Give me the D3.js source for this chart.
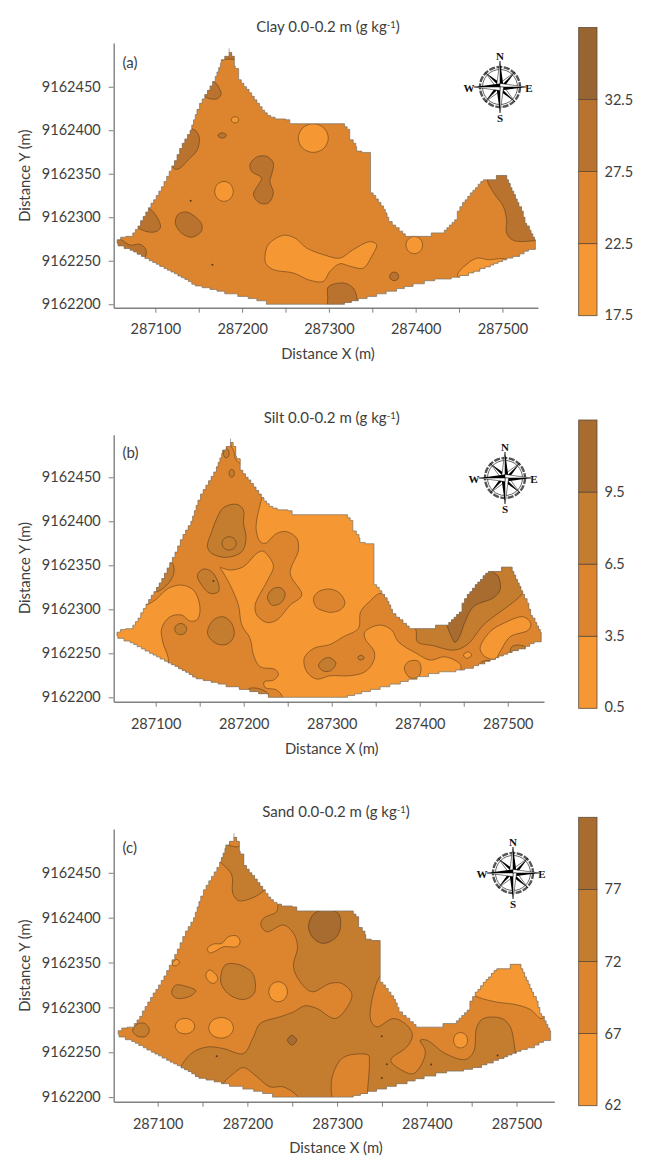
<!DOCTYPE html>
<html>
<head>
<meta charset="utf-8">
<style>
  html,body{margin:0;padding:0;background:#fff;}
  svg{display:block;}
  text{font-family:Lato,"Open Sans",sans-serif;fill:#3e3e3e;}
  .axis path,.axis line{stroke:#808080;}
  .axis path{stroke-width:1.4px;}
  .axis line{stroke-width:1px;}
  .axis text{font-size:14.5px;font-family:Lato,sans-serif;fill:#3e3e3e;}
  .contour{stroke:#4a3418;stroke-width:.6px;stroke-opacity:.85;}
</style>
</head>
<body>
<svg width="648" height="1157"></svg>
<script src="https://cdn.jsdelivr.net/npm/d3@7"></script>
<script>
// coordinates below are metres, offset from these two bases
var xBase = 287000, yBase = 9162000;

var xTicks = [287100,287150,287200,287250,287300,287350,287400,287450,287500];
var yTicks = [9162200,9162250,9162300,9162350,9162400,9162450];

// field boundary, same staircase in all three maps
var fieldOutline = [[56,270],[56,274],[60,277],[66,278],[71,278],[74,282],[77,286],[80,290],[83,296],[86,301],[89,306],[92,311],[95,316],[98,320],[101,325],[104,330],[107,335],[110,341],[113,347],[116,353],[119,359],[122,365],[125,372],[128,379],[131,385],[134,390],[137,395],[140,400],[142,406],[144,412],[146,418],[148,424],[151,431],[154,436],[157,441],[160,446],[163,451],[166,456],[169,462],[171,467],[173,472],[175,477],[176,481],[180,485],[185,489.5],[188,485],[191,481],[191,474],[192,471],[196,467],[196,458],[199,454],[202,450],[205,447],[208,443],[211,439],[214,435],[217,431],[220,427],[223,423],[226,420],[229,417],[233,415],[238,413],[250,412],[255,407.5],[315,407.5],[318,404],[321,401],[324,398],[324,389],[328,385],[331,381],[332,376],[338,374.5],[348,370],[348,328],[351,325],[354,321],[357,317],[360,313],[363,309],[365,305],[367,300],[369,295],[373,291],[377,288],[381,284],[385,281],[388,278],[415,278],[418,282],[430,282],[433,285],[436,288],[439,291],[442,294],[445,297],[448,300],[448,307],[451,312],[454,317],[457,320],[460,324],[463,328],[466,331],[469,334],[472,338],[475,341],[478,343],[491,343],[493,348],[503,348],[505,343],[507,339],[509,334],[511,330],[513,326],[515,321],[517,317],[519,312],[522,307],[524,300],[526,293],[528,290],[531,285],[533,281],[535,277],[537,274],[538,263],[530,261],[525,258],[520,255],[512,253],[505,251],[500,249],[495,247],[490,245],[486,243],[480,241],[474,238],[467,236],[461,233],[451,231],[441,229],[422,227],[410,223.5],[397,220.5],[387,218],[378,215],[366,212],[355,209],[344,206.5],[334,204],[326,202],[318,200],[240,200],[228,204],[217,206.5],[207,209],[195,212],[180,215],[171,217],[163,219],[154,221],[146,223],[142,226],[138,228.5],[134,230.5],[130,232.5],[126,235],[122,237],[118,239],[114,241],[110,243.5],[105,246],[101,248],[97,250],[93,252.5],[88,255],[84,257.5],[79,260],[75,262],[71,264],[64,267],[57,270]];
var apexSpike = [[185,489],[185,494]];

// ---- Clay
var clayTitle = "Clay 0.0-0.2 m (g kg";
var clayBreaks = [17.5,22.5,27.5,32.5,37.5];
var clayLabels = ["17.5","22.5","27.5","32.5"];
var clayColors = ["#f59733","#dd852e","#b9732f","#986432"];
var clayBase = 1;
var clayZone2 = [
  [[57,275],[71,268],[82,269],[89,263],[88,254],[70,250],[50,260]],
  [[92,310],[100,303],[106,289],[102,284],[92,283],[77,290],[70,300]],
  [[136,306],[153,293],[153,284],[142,277],[130,282],[123,293],[126,303]],
  [[167,456],[174.5,446.5],[175.7,441],[170.7,436],[156.5,439],[155,450]],
  [[147,399],[150.7,391],[148.4,377.6],[138,366],[126.5,355.4],[120.8,356.5],[118,380],[138,402]],
  [[172,394],[174,396.2],[177,397],[180,396.2],[182,394],[180,391.8],[177,391],[174,391.8]],
  [[209,360.4],[216.8,369.2],[228.3,370],[236,362.3],[234,349],[232,341.2],[236,327.8],[230.2,316.3],[220.6,316.3],[213,326],[218.7,337.4],[222.5,345],[211,352.7]],
  [[370,232],[371.6,235.5],[375.4,237],[379,235.5],[380.5,232],[379,228.5],[375.4,227],[371.6,228.5]],
  [[299.3,219.8],[316.6,224.4],[328,218.7],[332.7,205.3],[334,190],[301,190],[298.6,209]],
  [[482.5,342.4],[491.3,326],[501,312.5],[504.8,297.2],[504.8,282],[512.5,273.4],[537.4,273],[548,274],[530,352],[484,352]],
  [[170,481.8],[185,481.8],[200,481.8],[205,500],[165,500]]
];
var clayZone0 = [
  [[187.4,412],[188.7,414.5],[191.8,415.5],[194.9,414.5],[196.2,412],[194.9,409.5],[191.8,408.5],[188.7,409.5]],
  [[168.4,329.7],[171.5,337.8],[179.1,341.2],[186.7,337.8],[189.8,329.7],[186.7,321.6],[179.1,318.2],[171.5,321.6]],
  [[264.7,391],[269.8,402.7],[282,407.5],[294.2,402.7],[299.3,391],[294.2,379.3],[282,374.5],[269.8,379.3]],
  [[226.4,255],[230.2,268.5],[247.5,279.2],[261,276],[274.4,264.6],[297.4,255.8],[312.8,253],[328,262.7],[347.3,271.9],[355,268.5],[349.3,255],[339.7,241.6],[324.3,243.6],[312.8,246.6],[301.3,237.8],[293.6,226.3],[278.2,227.5],[259,235.9],[236,239.7],[227.5,246.6]],
  [[388.8,268],[391.6,275],[398.4,278],[405.2,275],[408,268],[405.2,261],[398.4,258],[391.6,261]],
  [[448.3,232.8],[460.6,247.4],[471.4,253],[483.7,251.2],[504.8,251.2],[508,235],[468,222]]
];
var claySpecks = [[140.7,319],[165.7,245.5]];

// ---- Silt
var siltTitle = "Silt 0.0-0.2 m (g kg";
var siltBreaks = [0.5,3.5,6.5,9.5,12.5];
var siltLabels = ["0.5","3.5","6.5","9.5"];
var siltColors = ["#f59733","#dd852e","#c47c2f","#a86c30"];
var siltBase = 0;
var siltZone1 = [
  [[87.9,304.8],[99.3,310.5],[114.4,323.8],[129.6,327.5],[142.9,321.9],[149.7,306.7],[149.7,293.4],[146.6,287.8],[139,286.6],[129.6,293.4],[116.3,291.5],[106.8,278.3],[108,263.1],[114.4,244.2],[114.4,233],[161.8,206],[237.6,191],[244.4,198.7],[237.6,208.2],[224.3,211.2],[223.2,217.6],[233.8,219.5],[239.5,226],[235.7,231.7],[218.7,234.7],[211.1,248],[207.3,266.9],[197.8,282.1],[194,304.8],[184.5,327.6],[175,344.6],[173.2,347.3],[184.5,344.6],[199.7,348.4],[214.9,363.6],[221.7,366.2],[230,357.9],[233.8,348.4],[226.2,331.3],[213,304.8],[214.9,293.4],[226.2,285.1],[237.6,287.8],[252.8,304.8],[266,316.2],[252.8,340.8],[262.2,367.3],[260.3,380.6],[249,388.2],[237.6,386.3],[224.3,374.9],[218.7,376.8],[214.1,392],[219.4,422.3],[222.4,433.7],[186,502],[124,422],[70.8,308.6]],
  [[355.6,318.1],[373.8,308.6],[390.9,282],[419.3,285.9],[476,350.3],[510.2,350.3],[555.7,270.7],[544.4,248],[487.5,232.8],[445.8,223.3],[446.6,236.6],[428.8,246],[411.7,242.3],[396.5,249.8],[375.7,263.1],[368.1,276.4],[354.9,282.1],[337.8,274.5],[337.8,266.9],[348.4,251.8],[347.3,240.4],[337.8,229],[320.7,224.5],[298,224.5],[283.1,220.7],[271.7,229],[268.7,244.2],[279.3,255.5],[298.2,260.1],[313.2,268.8],[330.2,278.3],[332.9,297.2],[342.7,308.6]],
  [[279.3,312.4],[285,320],[298.2,323],[309.4,318],[315,306.7],[309.4,299.1],[298,296.5],[294.5,297.2],[283,301.8]],
  [[382.5,232.8],[387,240.4],[398.4,241.1],[401.5,232.8],[398.4,223.3],[389,222.2]]
];
var siltZone0 = [
  [[185.3,488.6],[189.1,479.1],[190.2,471.6],[196.7,465.9],[199.7,475.4],[192.1,490.5]],
  [[468.6,255.5],[479.9,274.5],[495.1,284],[517.8,291.5],[526.2,284],[523.5,276.4],[502.7,268.8],[491.3,251.8],[485.6,243.4],[474.2,246.1]],
  [[449.6,248],[455.3,251.7],[459,248],[453.4,244.2]]
];
var siltZone2 = [
  [[169.4,403.3],[177,415.5],[192.1,419.3],[199.7,412.8],[199.7,397.7],[202.7,380.6],[197.8,365.4],[180.8,359],[163.7,363.5],[158.8,371.1],[163.7,388.2]],
  [[183.4,382.5],[189.1,380.3],[191.4,374.9],[189.1,369.5],[183.4,367.3],[177.7,369.5],[175.4,374.9],[177.7,380.3]],
  [[117.5,354],[120.9,342.7],[114.4,329.4],[99.3,320],[93.6,335]],
  [[147.4,338.9],[154.2,345.7],[163.7,342.7],[171.3,329.4],[171.3,320],[161.8,318.1],[152.3,327.5]],
  [[177,477.3],[179.6,482.9],[183,479.9],[182.6,473.5],[178.9,472.3]],
  [[183.4,454.5],[184.3,457.7],[186.4,459],[188.5,457.7],[189.4,454.5],[188.5,451.3],[186.4,450],[184.3,451.3]],
  [[227,314.3],[233.8,323.8],[243.3,323.8],[247.1,316.2],[241.4,306.7],[231.9,304.8]],
  [[158.8,274.5],[165.6,287.8],[177,291.5],[186.4,283.9],[189.1,270.7],[182.6,261.2],[171.3,260.1],[161.8,266.9]],
  [[121.6,277.5],[123.6,282],[128.4,283.9],[133.2,282],[135.2,277.5],[133.2,273],[128.4,271.1],[123.6,273]],
  [[285,235.8],[290.7,243.4],[298.2,244.9],[304.8,238.5],[299.9,230.9],[298,229.8],[290.7,229.8]],
  [[329.5,245],[333.2,247.8],[337,245],[333.2,242.2]],
  [[395.8,276.4],[397.3,263.1],[415.5,258.6],[438.2,253.6],[453.4,259.3],[472.3,282.1],[483.7,291.5],[515.9,316.9],[525.4,335],[506.5,352],[476,352],[419.3,290],[389,285]],
  [[502.7,249.8],[504.6,257.4],[514,259.3],[521.6,255.5],[517.8,246],[504.6,244.2]],
  [[467.4,236.6],[472.3,241.1],[483.7,240.4],[479.9,232.8],[468.6,230.9]],
  [[205.4,209.3],[216.8,210],[228.1,203.2],[215,195]]
];
var siltZone3 = [
  [[430.7,282.1],[435.2,270.7],[440.1,262.4],[445.1,268.8],[451.5,285.9],[461,302.9],[483.7,313.1],[491.3,321.9],[489.4,337],[483.7,342],[476,350],[457.2,330],[442,300],[426.9,289.7]]
];
var siltSpecks = [[165.6,332.1]];

// ---- Sand
var sandTitle = "Sand 0.0-0.2 m (g kg";
var sandBreaks = [62,67,72,77,82];
var sandLabels = ["62","67","72","77"];
var sandColors = ["#f59733","#dd852e","#c47c2f","#a86c30"];
var sandBase = 1;
var sandZone2 = [
  [[171.4,460.6],[182.6,447.6],[183.7,427.1],[190,419],[201.2,420.4],[217.2,429],[225.4,442],[195.6,497],[169.6,483],[164,468]],
  [[234.7,415.2],[242.1,417.8],[297.9,414.1],[316.3,410.4],[331.2,397.4],[334.9,378.8],[353.5,375],[355.4,337.8],[349,336],[340.5,315.5],[337.5,285.8],[344.2,278.3],[362.8,287.6],[377.7,280.2],[384,269],[377.7,256],[359.8,241.1],[372.1,230],[385.1,226.2],[396.3,241.1],[398.1,252.3],[392.6,263.4],[400,263.4],[420.5,248.6],[442.8,241.9],[452.1,250.4],[455.8,278.3],[463.2,287.6],[483.7,287.6],[493,278.3],[498.6,250.4],[500.4,237.4],[446.5,211.4],[390.7,203.9],[334.9,194.6],[257,194.6],[257,199.5],[240.2,211.4],[225.4,211.4],[208.6,224.4],[195.6,232.9],[184.4,226.2],[175.1,218],[169.6,211.4],[124.9,228.1],[127.9,237.4],[139.8,250.4],[156.5,256],[173.3,254.1],[195.6,248.6],[206.8,267.2],[214.2,282],[236.5,289.5],[251.4,295],[264.4,301.8],[277.4,298.8],[297.9,287.6],[312.6,302.5],[316.3,315.5],[305.1,326.7],[292.3,326.7],[271.9,317.4],[258.8,328.5],[251.4,345.3],[255.9,367.6],[251.4,382.5],[240.2,391.8],[221.6,384.3],[215,391.8],[217.9,399.2],[232.8,406.7]],
  [[170.3,334.1],[175.1,347.1],[188.2,348.3],[206,337.8],[207.5,315.5],[195.6,308.8],[180.7,313.7],[171.4,324.8]],
  [[115.6,317.4],[120.1,324.8],[130.5,323.7],[142.4,318.5],[136.1,312.5],[123.1,309.9],[117.5,312.5]],
  [[72.1,274.6],[78.4,282],[85.9,282],[90.7,274.6],[87,267.9],[77.3,267.9]]
];
var sandPatch1 = [
  [[176.3,483],[190,479.2],[195.6,486.6],[184.4,497.8],[175.1,492.2]],
  [[303.3,241.1],[310.7,246],[320,247.8],[334.9,246.7],[336,237.4],[333.8,203.9],[333.8,194.6],[295.3,194.6],[294.2,200],[294.2,221]]
];
var sandZone0 = [
  [[155.4,365.7],[162.1,370.6],[171.4,371.3],[178.9,378.8],[188.2,379.5],[191.9,373.2],[188.2,367.6],[173.3,367.6],[162.9,362],[157.7,360.9]],
  [[116.7,349.7],[121.2,353.5],[124.2,350.1],[121.2,346.8],[116.7,346.8]],
  [[153.6,336],[157.3,341.6],[164,337.8],[167,331.5],[162.1,326.7],[156.5,329.7]],
  [[223.9,317.4],[227,325.3],[234.3,328.6],[241.6,325.3],[244.7,317.4],[241.6,309.5],[234.3,306.2],[227,309.5]],
  [[119.7,279.1],[122.9,285.2],[130.5,287.7],[138.1,285.2],[141.3,279.1],[138.1,273],[130.5,270.5],[122.9,273]],
  [[156.9,277.2],[160.9,285.3],[170.7,288.7],[180.5,285.3],[184.5,277.2],[180.5,269.1],[170.7,265.7],[160.9,269.1]],
  [[429.8,263.4],[432,269.5],[437.6,272],[443.2,269.5],[445.4,263.4],[443.2,257.3],[437.6,254.8],[432,257.3]],
  [[453.9,312.9],[476.3,306.2],[498.6,303.2],[515.3,297.7],[528.4,287.6],[543.2,311.8],[506,356.4],[472.5,352.7],[446.5,319.2]]
];
var sandZone3 = [
  [[268.1,389.9],[274.5,404.8],[288.6,408.5],[301.4,404.8],[304,391.8],[299.6,378.8],[284.9,371.3],[273.7,376.9]],
  [[244.7,263.4],[249.5,269],[255.1,263.4],[249.5,257.9]]
];
var sandSpecks = [[165.8,245.6],[349.8,267.9],[355.4,236.7],[349.8,221.4],[404.8,236.3],[478.9,246.3]];

// ---- layout, one entry per map
var layouts = [
  {tag:"(a)",title:clayTitle,breaks:clayBreaks,labels:clayLabels,colors:clayColors,base:clayBase,
   zones:[[2,clayZone2],[0,clayZone0]],specks:claySpecks,
   xd:[287052,287541],yd:[9162196,9162500.3],xr:[113.7,538],yr:[307.7,43],
   legend:[315.7,27.5],titleX:328,titleY:27,xLabelY:354,tickY:329,yLabelC:175.7,tagY:62.7,compass:[500,87]},
  {tag:"(b)",title:siltTitle,breaks:siltBreaks,labels:siltLabels,colors:siltColors,base:siltBase,
   zones:[[1,siltZone1],[0,siltZone0],[2,siltZone2],[3,siltZone3]],specks:siltSpecks,
   xd:[287052.3,287541.2],yd:[9162195,9162498.4],xr:[113.7,544],yr:[701.7,434.7],
   legend:[708.3,420],titleX:331.7,titleY:418,xLabelY:749,tickY:724,yLabelC:568,tagY:453,compass:[505,478]},
  {tag:"(c)",title:sandTitle,breaks:sandBreaks,labels:sandLabels,colors:sandColors,base:sandBase,
   zones:[[2,sandZone2],[1,sandPatch1],[0,sandZone0],[3,sandZone3]],specks:sandSpecks,
   xd:[287051,287542.1],yd:[9162194.9,9162498.8],xr:[113.7,554.3],yr:[1101.7,829],
   legend:[1105.7,817.3],titleX:336,titleY:812,xLabelY:1148,tickY:1124,yLabelC:965.7,tagY:848,compass:[513,873]}
];

var svg = d3.select("svg");
var defs = svg.append("defs");

layouts.forEach(function(p,i){
  var x = d3.scaleLinear().domain(p.xd).range(p.xr),
      y = d3.scaleLinear().domain(p.yd).range(p.yr);
  var px = function(d){return x(d[0]+xBase);},
      py = function(d){return y(d[1]+yBase);};
  var stair = d3.line().x(px).y(py).curve(d3.curveStepAfter);
  var blob = d3.line().x(px).y(py).curve(d3.curveCatmullRomClosed.alpha(0.5));

  defs.append("clipPath").attr("id","field"+i)
    .append("path").attr("d",stair(fieldOutline)+"Z");

  var g = svg.append("g");

  // map
  g.append("path").attr("d",stair(fieldOutline)+"Z").attr("fill",p.colors[p.base]);
  var inner = g.append("g").attr("clip-path","url(#field"+i+")");
  p.zones.forEach(function(zone){
    inner.selectAll(null).data(zone[1]).enter().append("path")
      .attr("class","contour")
      .attr("d",blob)
      .attr("fill",p.colors[zone[0]]);
  });
  inner.selectAll(null).data(p.specks).enter().append("circle")
    .attr("cx",px).attr("cy",py).attr("r",1).attr("fill","#5a3a18");
  g.append("path").attr("d",stair(fieldOutline)+"Z")
    .attr("fill","none").attr("stroke","#7a7166").attr("stroke-width",.7);
  g.append("path").attr("d",d3.line().x(px).y(py)(apexSpike))
    .attr("stroke","#888").attr("stroke-width",.7);

  // axes
  var xAxis = d3.axisBottom(x).tickValues(xTicks).tickSize(5).tickSizeOuter(0)
    .tickFormat(function(d){return d%100==0?d3.format("d")(d):"";});
  var yAxis = d3.axisLeft(y).tickValues(yTicks).tickSize(5).tickSizeOuter(0)
    .tickFormat(d3.format("d"));
  var gx = g.append("g").attr("class","axis")
    .attr("transform","translate(0,"+p.yr[0]+")").call(xAxis);
  gx.selectAll("text").attr("y",0).attr("dy",0)
    .attr("transform","translate(0,"+(p.tickY-p.yr[0]+5)+")");
  var gy = g.append("g").attr("class","axis")
    .attr("transform","translate("+p.xr[0]+",0)").call(yAxis);
  gy.selectAll("text").attr("x",-13);

  // titles
  var t = g.append("text").attr("x",p.titleX).attr("y",p.titleY+5)
    .attr("text-anchor","middle").attr("font-size",15).text(p.title);
  t.append("tspan").attr("font-size",9.5).attr("dy",-4.5).text("-1");
  t.append("tspan").attr("dy",4.5).text(")");
  g.append("text").attr("x",p.titleX).attr("y",p.xLabelY+5)
    .attr("text-anchor","middle").attr("font-size",14.8).text("Distance X (m)");
  g.append("text").attr("transform","translate(30,"+p.yLabelC+") rotate(-90)")
    .attr("text-anchor","middle").attr("font-size",14.8).text("Distance Y (m)");
  g.append("text").attr("x",122.5).attr("y",p.tagY+5).attr("font-size",15).text(p.tag);

  // colour bar
  var c = d3.scaleLinear().domain([p.breaks[0],p.breaks[4]]).range(p.legend);
  var bands = d3.pairs(p.breaks);
  g.selectAll(null).data(bands).enter().append("rect")
    .attr("x",578.7).attr("width",18.3)
    .attr("y",function(d){return c(d[1]);})
    .attr("height",function(d){return c(d[0])-c(d[1]);})
    .attr("fill",function(d,j){return p.colors[j];})
    .attr("stroke","#5c4a38").attr("stroke-width",.8);
  g.selectAll(null).data(p.labels).enter().append("text")
    .attr("x",604.5)
    .attr("y",function(d,j){return c(p.breaks[j])+(j==0?4:5);})
    .attr("font-size",14.5)
    .text(function(d){return d;});

  drawCompass(g.append("g").attr("transform","translate("+p.compass[0]+","+p.compass[1]+")"));
});

function drawCompass(c){
  c.append("circle").attr("r",20).attr("fill","#fff").attr("stroke","#555").attr("stroke-width",2.4)
    .attr("stroke-dasharray","6 1.5");
  c.append("circle").attr("r",17.5).attr("fill","none").attr("stroke","#222").attr("stroke-width",.7);
  // ordinal points first, cardinal on top
  [45,135,225,315,0,90,180,270].forEach(function(a,i){
    var len = i<4?21:26, w = i<4?3.4:3.6;
    var r = c.append("g").attr("transform","rotate("+a+")");
    r.append("path").attr("d","M0,"+(-len)+"L"+w+",0L0,0Z").attr("fill","#000");
    r.append("path").attr("d","M0,"+(-len)+"L"+(-w)+",0L0,0Z").attr("fill","#fff").attr("stroke","#000").attr("stroke-width",.5);
  });
  [["N",0,-27],["S",0,35],["W",-31,5],["E",29,5]].forEach(function(d){
    c.append("text").attr("x",d[1]).attr("y",d[2]).attr("text-anchor","middle")
      .style("font-family","'Liberation Serif',serif").style("font-weight","bold").style("fill","#111")
      .attr("font-size",11).text(d[0]);
  });
}
</script>
</body>
</html>
